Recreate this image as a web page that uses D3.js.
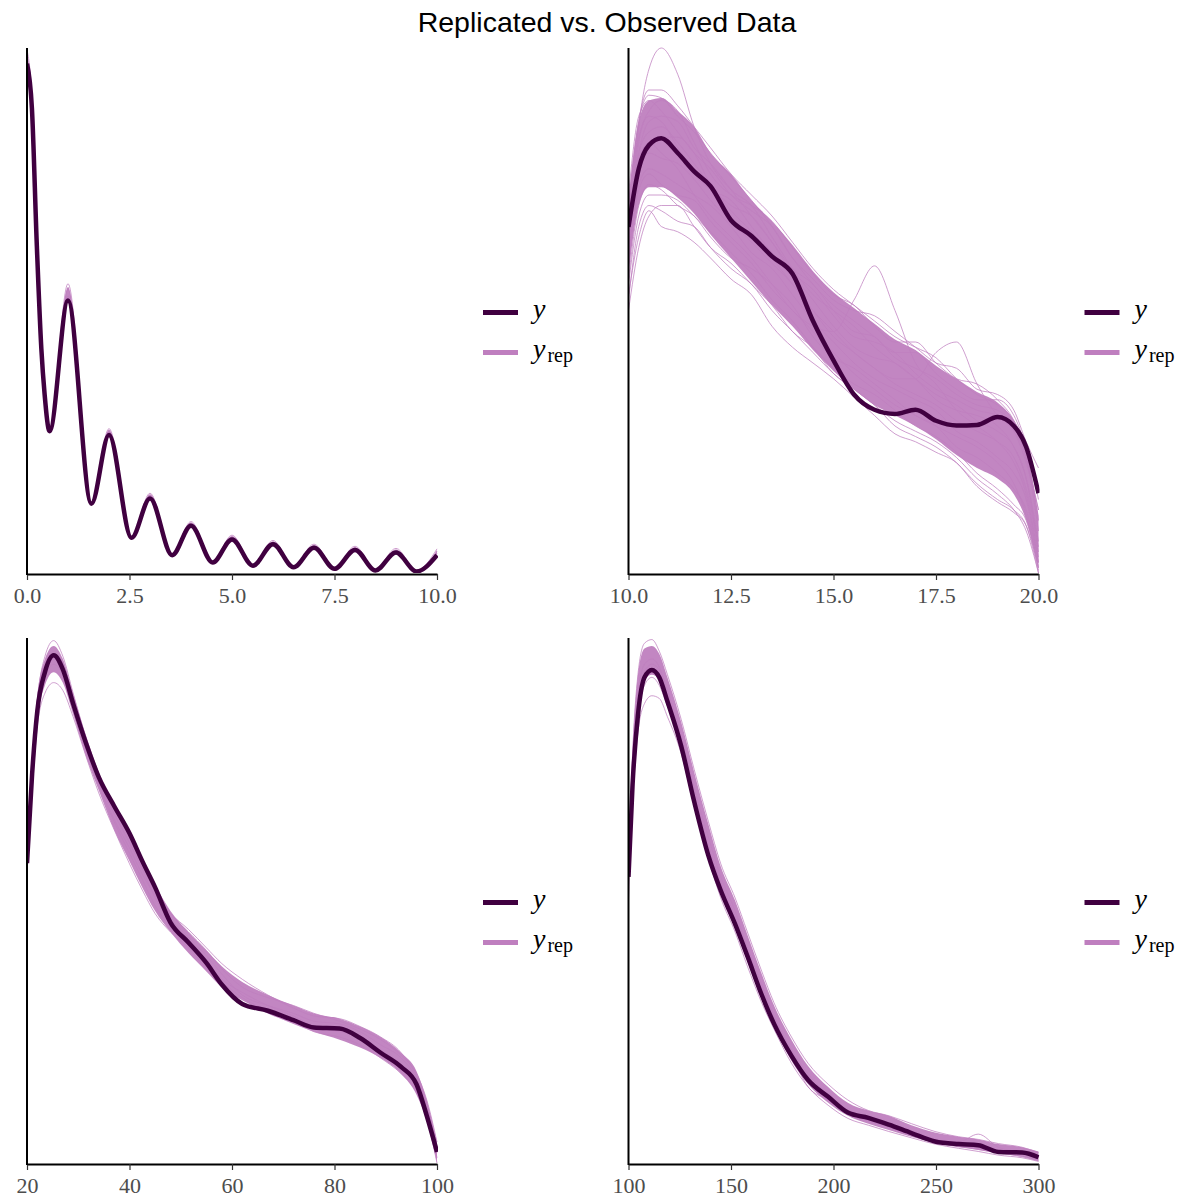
<!DOCTYPE html>
<html>
<head>
<meta charset="utf-8">
<script src="https://cdn.jsdelivr.net/npm/d3@7"></script>
<style>
  html, body { margin: 0; padding: 0; background: #fff; }
  svg { display: block; }
</style>
</head>
<body>
<svg id="chart" width="1189" height="1198"></svg>
<script>
// ---------------- DATA (density, scaled so panel top = 1) ----------------
const title = "Replicated vs. Observed Data";

// Panel 1: x in [0, 10]
const p1X = [0, 0.12, 0.24, 0.35, 0.43, 0.55, 1.0, 1.57, 2.0, 2.55, 3.0, 3.54, 4.0, 4.53, 5.0, 5.51, 6.0, 6.5, 7.0, 7.5, 8.0, 8.5, 9.0, 9.5, 10.0];
const p1Y = [0.97, 0.885, 0.623, 0.427, 0.34, 0.27, 0.519, 0.132, 0.263, 0.067, 0.142, 0.034, 0.090, 0.020, 0.064, 0.014, 0.055, 0.011, 0.048, 0.008, 0.044, 0.005, 0.039, 0.003, 0.034];
const p1RepLo = [0.965, 0.88, 0.62, 0.425, 0.338, 0.268, 0.515, 0.131, 0.26, 0.066, 0.14, 0.033, 0.088, 0.019, 0.062, 0.013, 0.053, 0.010, 0.046, 0.007, 0.042, 0.004, 0.037, 0.002, 0.032];
const p1RepHi = [0.99, 0.9, 0.636, 0.436, 0.347, 0.273, 0.545, 0.135, 0.273, 0.068, 0.15, 0.035, 0.096, 0.021, 0.07, 0.015, 0.06, 0.012, 0.053, 0.009, 0.049, 0.006, 0.045, 0.004, 0.044];
const p1RepLines = [
  [0.997, 0.905, 0.64, 0.44, 0.35, 0.275, 0.551, 0.136, 0.275, 0.069, 0.152, 0.036, 0.098, 0.022, 0.072, 0.016, 0.062, 0.013, 0.055, 0.010, 0.051, 0.007, 0.047, 0.005, 0.046],
  [0.985, 0.895, 0.632, 0.433, 0.345, 0.272, 0.54, 0.134, 0.27, 0.068, 0.148, 0.035, 0.095, 0.021, 0.069, 0.015, 0.059, 0.012, 0.052, 0.009, 0.048, 0.006, 0.043, 0.004, 0.041],
  [0.975, 0.888, 0.626, 0.43, 0.342, 0.27, 0.528, 0.133, 0.266, 0.067, 0.145, 0.034, 0.092, 0.020, 0.066, 0.014, 0.057, 0.011, 0.050, 0.008, 0.046, 0.005, 0.041, 0.003, 0.037]
];
const p1Ticks = [0, 2.5, 5, 7.5, 10];
const p1TickLabels = ["0.0", "2.5", "5.0", "7.5", "10.0"];

// Panel 2: x in [10, 20]
const p2X = [10, 10.25, 10.5, 10.8, 11.2, 11.6, 12, 12.5, 13, 13.5, 14, 14.5, 15, 15.5, 16, 16.5, 17, 17.5, 18, 18.5, 19, 19.4, 19.7, 20];
const p2Y = [0.659, 0.77, 0.815, 0.828, 0.80, 0.765, 0.737, 0.672, 0.642, 0.603, 0.57, 0.48, 0.405, 0.34, 0.311, 0.303, 0.311, 0.29, 0.281, 0.282, 0.297, 0.28, 0.24, 0.152];
const p2RepLo = [0.57, 0.70, 0.735, 0.735, 0.715, 0.685, 0.645, 0.60, 0.555, 0.51, 0.47, 0.425, 0.385, 0.35, 0.32, 0.30, 0.28, 0.255, 0.225, 0.20, 0.18, 0.15, 0.10, 0.01];
const p2RepHi = [0.71, 0.86, 0.90, 0.905, 0.88, 0.85, 0.80, 0.76, 0.71, 0.67, 0.625, 0.575, 0.535, 0.505, 0.475, 0.445, 0.425, 0.395, 0.37, 0.345, 0.325, 0.29, 0.235, 0.11];
const p2RepLines = [
  [0.62, 0.85, 0.96, 1.0, 0.95, 0.85, 0.78, 0.73, 0.70, 0.64, 0.58, 0.53, 0.50, 0.47, 0.43, 0.40, 0.37, 0.34, 0.32, 0.29, 0.27, 0.24, 0.18, 0.06],
  [0.70, 0.86, 0.91, 0.905, 0.87, 0.84, 0.80, 0.755, 0.71, 0.66, 0.60, 0.56, 0.52, 0.50, 0.49, 0.46, 0.43, 0.40, 0.39, 0.35, 0.34, 0.31, 0.25, 0.20],
  [0.53, 0.64, 0.69, 0.66, 0.65, 0.63, 0.60, 0.56, 0.53, 0.47, 0.43, 0.40, 0.37, 0.335, 0.30, 0.265, 0.25, 0.23, 0.21, 0.165, 0.135, 0.115, 0.09, 0.01],
  [0.60, 0.78, 0.82, 0.80, 0.77, 0.72, 0.68, 0.64, 0.60, 0.55, 0.50, 0.47, 0.46, 0.52, 0.585, 0.50, 0.40, 0.36, 0.31, 0.28, 0.25, 0.21, 0.15, 0.03],
  [0.64, 0.80, 0.84, 0.85, 0.82, 0.78, 0.74, 0.69, 0.65, 0.60, 0.55, 0.50, 0.46, 0.42, 0.39, 0.37, 0.37, 0.42, 0.44, 0.36, 0.30, 0.27, 0.22, 0.08],
  [0.66, 0.79, 0.82, 0.83, 0.83, 0.80, 0.74, 0.70, 0.68, 0.63, 0.57, 0.52, 0.47, 0.43, 0.41, 0.40, 0.37, 0.33, 0.31, 0.30, 0.28, 0.24, 0.18, 0.04],
  [0.60, 0.74, 0.77, 0.76, 0.74, 0.72, 0.70, 0.66, 0.61, 0.58, 0.53, 0.48, 0.44, 0.40, 0.37, 0.35, 0.33, 0.31, 0.27, 0.25, 0.22, 0.19, 0.14, 0.02],
  [0.68, 0.83, 0.87, 0.86, 0.81, 0.76, 0.73, 0.71, 0.66, 0.61, 0.57, 0.54, 0.49, 0.45, 0.44, 0.42, 0.38, 0.35, 0.33, 0.31, 0.30, 0.27, 0.21, 0.12],
  [0.56, 0.70, 0.74, 0.73, 0.70, 0.68, 0.64, 0.60, 0.58, 0.55, 0.51, 0.45, 0.41, 0.39, 0.36, 0.33, 0.30, 0.28, 0.26, 0.24, 0.21, 0.17, 0.11, 0.01],
  [0.50, 0.62, 0.68, 0.70, 0.70, 0.66, 0.62, 0.59, 0.55, 0.51, 0.46, 0.43, 0.39, 0.36, 0.34, 0.31, 0.28, 0.26, 0.23, 0.19, 0.16, 0.13, 0.10, 0.005],
  [0.72, 0.87, 0.90, 0.88, 0.84, 0.80, 0.77, 0.72, 0.69, 0.66, 0.60, 0.55, 0.51, 0.48, 0.45, 0.42, 0.42, 0.38, 0.35, 0.33, 0.33, 0.30, 0.24, 0.16],
  [0.62, 0.76, 0.80, 0.79, 0.78, 0.75, 0.71, 0.67, 0.63, 0.59, 0.55, 0.50, 0.45, 0.42, 0.39, 0.36, 0.34, 0.32, 0.29, 0.27, 0.25, 0.22, 0.16, 0.05],
  [0.68, 0.86, 0.92, 0.92, 0.89, 0.85, 0.81, 0.76, 0.72, 0.68, 0.63, 0.58, 0.54, 0.51, 0.48, 0.45, 0.43, 0.41, 0.37, 0.34, 0.32, 0.29, 0.24, 0.14],
  [0.55, 0.68, 0.72, 0.72, 0.71, 0.68, 0.65, 0.61, 0.57, 0.52, 0.48, 0.43, 0.38, 0.35, 0.32, 0.29, 0.27, 0.25, 0.22, 0.18, 0.15, 0.12, 0.08, 0.0],
  [0.64, 0.82, 0.88, 0.90, 0.88, 0.82, 0.76, 0.72, 0.70, 0.67, 0.62, 0.57, 0.53, 0.51, 0.47, 0.44, 0.44, 0.40, 0.37, 0.36, 0.33, 0.29, 0.23, 0.10],
  [0.58, 0.73, 0.76, 0.74, 0.72, 0.71, 0.67, 0.63, 0.59, 0.54, 0.50, 0.46, 0.42, 0.38, 0.35, 0.32, 0.30, 0.28, 0.24, 0.22, 0.19, 0.16, 0.12, 0.02],
  [0.66, 0.80, 0.86, 0.87, 0.86, 0.81, 0.78, 0.73, 0.68, 0.63, 0.58, 0.55, 0.50, 0.46, 0.45, 0.41, 0.39, 0.37, 0.34, 0.32, 0.31, 0.28, 0.22, 0.12],
  [0.52, 0.66, 0.70, 0.69, 0.67, 0.66, 0.62, 0.58, 0.55, 0.50, 0.46, 0.42, 0.38, 0.35, 0.32, 0.28, 0.26, 0.24, 0.21, 0.17, 0.14, 0.12, 0.09, 0.0]
];
const p2Ticks = [10, 12.5, 15, 17.5, 20];
const p2TickLabels = ["10.0", "12.5", "15.0", "17.5", "20.0"];

// Panel 3: x in [20, 100]
const p3X = [20, 21, 22, 23.5, 25.2, 27, 29, 31.5, 34, 37, 40, 42.5, 45, 48, 51.5, 55, 58, 62, 67, 72, 76, 81, 85, 89, 93, 96, 98, 100];
const p3Y = [0.571, 0.741, 0.86, 0.935, 0.967, 0.94, 0.875, 0.80, 0.735, 0.68, 0.628, 0.575, 0.525, 0.458, 0.42, 0.381, 0.34, 0.303, 0.29, 0.272, 0.258, 0.256, 0.238, 0.21, 0.183, 0.15, 0.09, 0.021];
const p3RepLo = [0.55, 0.72, 0.84, 0.91, 0.935, 0.915, 0.855, 0.775, 0.71, 0.635, 0.575, 0.525, 0.48, 0.44, 0.40, 0.365, 0.335, 0.31, 0.285, 0.265, 0.25, 0.235, 0.22, 0.20, 0.17, 0.13, 0.08, 0.0];
const p3RepHi = [0.60, 0.77, 0.89, 0.96, 0.985, 0.96, 0.895, 0.815, 0.745, 0.68, 0.625, 0.58, 0.53, 0.48, 0.44, 0.405, 0.375, 0.345, 0.32, 0.30, 0.285, 0.275, 0.26, 0.24, 0.21, 0.175, 0.12, 0.04];
const p3RepLines = [
  [0.56, 0.75, 0.88, 0.965, 0.995, 0.965, 0.895, 0.81, 0.74, 0.675, 0.62, 0.57, 0.525, 0.475, 0.44, 0.405, 0.37, 0.335, 0.315, 0.30, 0.285, 0.27, 0.255, 0.235, 0.205, 0.17, 0.12, 0.04],
  [0.55, 0.71, 0.83, 0.895, 0.915, 0.90, 0.85, 0.775, 0.705, 0.635, 0.57, 0.52, 0.475, 0.44, 0.41, 0.37, 0.345, 0.315, 0.29, 0.27, 0.25, 0.24, 0.225, 0.20, 0.17, 0.135, 0.085, 0.0],
  [0.59, 0.76, 0.87, 0.94, 0.97, 0.95, 0.885, 0.80, 0.73, 0.665, 0.61, 0.56, 0.505, 0.465, 0.43, 0.395, 0.36, 0.32, 0.30, 0.285, 0.27, 0.265, 0.25, 0.225, 0.20, 0.16, 0.105, 0.02],
  [0.57, 0.73, 0.85, 0.925, 0.95, 0.93, 0.865, 0.79, 0.72, 0.65, 0.59, 0.54, 0.49, 0.45, 0.42, 0.38, 0.35, 0.325, 0.30, 0.28, 0.26, 0.25, 0.24, 0.215, 0.185, 0.145, 0.095, 0.01],
  [0.58, 0.74, 0.86, 0.93, 0.96, 0.94, 0.87, 0.795, 0.725, 0.655, 0.60, 0.55, 0.51, 0.475, 0.445, 0.41, 0.38, 0.35, 0.32, 0.295, 0.28, 0.275, 0.26, 0.24, 0.21, 0.165, 0.11, 0.03]
];
const p3Ticks = [20, 40, 60, 80, 100];
const p3TickLabels = ["20", "40", "60", "80", "100"];

// Panel 4: x in [100, 300]
const p4X = [100, 102, 104.6, 107.8, 111.4, 115, 119, 125.7, 132, 139, 145, 152, 158, 165, 171, 179.5, 187.6, 197.4, 207, 217, 227, 238, 249.5, 261, 270.6, 280.4, 292, 300];
const p4Y = [0.545, 0.722, 0.853, 0.925, 0.939, 0.925, 0.879, 0.794, 0.689, 0.585, 0.519, 0.455, 0.394, 0.32, 0.265, 0.204, 0.158, 0.126, 0.096, 0.086, 0.073, 0.057, 0.041, 0.036, 0.034, 0.021, 0.02, 0.011];
const p4RepLo = [0.52, 0.72, 0.86, 0.92, 0.93, 0.92, 0.87, 0.79, 0.69, 0.59, 0.515, 0.45, 0.385, 0.315, 0.26, 0.195, 0.15, 0.115, 0.09, 0.075, 0.063, 0.05, 0.038, 0.03, 0.025, 0.018, 0.012, 0.004];
const p4RepHi = [0.60, 0.79, 0.93, 0.98, 0.985, 0.97, 0.925, 0.84, 0.745, 0.645, 0.565, 0.50, 0.435, 0.36, 0.30, 0.235, 0.185, 0.145, 0.115, 0.10, 0.09, 0.072, 0.058, 0.05, 0.045, 0.036, 0.03, 0.022];
const p4RepLines = [
  [0.55, 0.78, 0.93, 0.99, 0.997, 0.975, 0.93, 0.845, 0.75, 0.65, 0.57, 0.505, 0.44, 0.365, 0.305, 0.24, 0.19, 0.15, 0.12, 0.10, 0.09, 0.075, 0.06, 0.05, 0.045, 0.037, 0.03, 0.02],
  [0.50, 0.69, 0.82, 0.875, 0.89, 0.885, 0.85, 0.78, 0.68, 0.58, 0.505, 0.44, 0.375, 0.305, 0.255, 0.19, 0.145, 0.11, 0.085, 0.072, 0.06, 0.048, 0.036, 0.028, 0.022, 0.015, 0.01, 0.003],
  [0.53, 0.75, 0.89, 0.95, 0.96, 0.945, 0.90, 0.815, 0.715, 0.62, 0.545, 0.48, 0.41, 0.34, 0.28, 0.215, 0.17, 0.13, 0.10, 0.085, 0.076, 0.062, 0.045, 0.04, 0.055, 0.03, 0.02, 0.01],
  [0.56, 0.74, 0.87, 0.935, 0.95, 0.94, 0.89, 0.81, 0.71, 0.605, 0.535, 0.47, 0.405, 0.335, 0.275, 0.21, 0.16, 0.128, 0.10, 0.082, 0.07, 0.055, 0.042, 0.034, 0.03, 0.022, 0.018, 0.008],
  [0.54, 0.72, 0.85, 0.91, 0.925, 0.91, 0.87, 0.80, 0.70, 0.60, 0.53, 0.465, 0.40, 0.33, 0.27, 0.205, 0.145, 0.12, 0.095, 0.08, 0.068, 0.052, 0.04, 0.032, 0.026, 0.02, 0.012, 0.004]
];
const p4Ticks = [100, 150, 200, 250, 300];
const p4TickLabels = ["100", "150", "200", "250", "300"];

const legendLabels = ["y", "y_rep"];

// ---------------- STYLE / LAYOUT ----------------
const colDark = "#400040";
const colLight = "#bf7fbf";

const panels = [
  { x: p1X, y: p1Y, lo: p1RepLo, hi: p1RepHi, reps: p1RepLines, dom: [0, 10], ticks: p1Ticks, labels: p1TickLabels, left: 27, right: 437, top: 48, bottom: 573 },
  { x: p2X, y: p2Y, lo: p2RepLo, hi: p2RepHi, reps: p2RepLines, dom: [10, 20], ticks: p2Ticks, labels: p2TickLabels, left: 628.5, right: 1038.5, top: 48, bottom: 573 },
  { x: p3X, y: p3Y, lo: p3RepLo, hi: p3RepHi, reps: p3RepLines, dom: [20, 100], ticks: p3Ticks, labels: p3TickLabels, left: 27, right: 437, top: 638, bottom: 1163 },
  { x: p4X, y: p4Y, lo: p4RepLo, hi: p4RepHi, reps: p4RepLines, dom: [100, 300], ticks: p4Ticks, labels: p4TickLabels, left: 628.5, right: 1038.5, top: 638, bottom: 1163 }
];

const svg = d3.select("#chart");

svg.append("text")
  .attr("x", 607).attr("y", 32)
  .attr("text-anchor", "middle")
  .attr("font-family", "Liberation Sans, Arial, sans-serif")
  .attr("font-size", 28.5)
  .attr("fill", "#000")
  .text(title);

panels.forEach((p, i) => {
  const g = svg.append("g").attr("class", "panel" + (i + 1));
  const xs = d3.scaleLinear().domain(p.dom).range([p.left, p.right]);
  const ys = d3.scaleLinear().domain([0, 1]).range([p.bottom, p.top]);

  const clipId = "clip" + i;
  g.append("clipPath").attr("id", clipId)
    .append("rect").attr("x", p.left).attr("y", p.top - 2)
    .attr("width", p.right - p.left + 1).attr("height", p.bottom - p.top + 2);

  const plot = g.append("g").attr("clip-path", `url(#${clipId})`);

  // dense core of replicated densities
  const area = d3.area()
    .x((d, j) => xs(p.x[j]))
    .y0((d, j) => ys(p.lo[j]))
    .y1((d, j) => ys(p.hi[j]))
    .curve(d3.curveMonotoneX);
  plot.append("path").datum(p.lo)
    .attr("d", area)
    .attr("fill", colLight)
    .attr("fill-opacity", 0.95);

  const line = d3.line()
    .x((d, j) => xs(p.x[j]))
    .y(d => ys(d))
    .curve(d3.curveMonotoneX);

  plot.selectAll("path.rep").data(p.reps).enter().append("path")
    .attr("class", "rep")
    .attr("d", line)
    .attr("fill", "none")
    .attr("stroke", colLight)
    .attr("stroke-opacity", 0.75)
    .attr("stroke-width", 1);

  plot.append("path").datum(p.y)
    .attr("d", line)
    .attr("fill", "none")
    .attr("stroke", colDark)
    .attr("stroke-width", 4.5)
    .attr("stroke-linejoin", "round");

  // axes
  const xAxis = d3.axisBottom(xs)
    .tickValues(p.ticks)
    .tickFormat((d, j) => p.labels[j])
    .tickSizeInner(6)
    .tickSizeOuter(0)
    .tickPadding(7);
  const ax = g.append("g").attr("transform", `translate(0,${p.bottom + 1})`).call(xAxis);
  ax.select(".domain").attr("stroke", "#000").attr("stroke-width", 2);
  ax.selectAll(".tick line").attr("stroke", "#333").attr("stroke-width", 1.2);
  ax.selectAll(".tick text")
    .attr("font-family", "Liberation Serif, Times New Roman, serif")
    .attr("font-size", 22)
    .attr("fill", "#4d4d4d");

  g.append("line")
    .attr("x1", p.left).attr("x2", p.left)
    .attr("y1", p.top).attr("y2", p.bottom + 2)
    .attr("stroke", "#000").attr("stroke-width", 2);

  // legend
  const lx = p.right + 46;
  const ly = (p.top + p.bottom) / 2 + 2;
  const leg = g.append("g").attr("class", "legend");
  legendLabels.forEach((lab, k) => {
    const yy = ly + k * 40;
    leg.append("line")
      .attr("x1", lx).attr("x2", lx + 35)
      .attr("y1", yy).attr("y2", yy)
      .attr("stroke", k === 0 ? colDark : colLight)
      .attr("stroke-width", 5);
    const t = leg.append("text")
      .attr("x", lx + 50).attr("y", yy + 5)
      .attr("font-family", "Liberation Serif, Times New Roman, serif")
      .attr("font-size", 28)
      .attr("fill", "#000");
    const parts = lab.split("_");
    t.append("tspan").attr("font-style", "italic").text(parts[0]);
    if (parts[1]) {
      t.append("tspan").attr("font-size", 20).attr("dx", 2).attr("dy", 4).text(parts[1]);
    }
  });
});
</script>
</body>
</html>
